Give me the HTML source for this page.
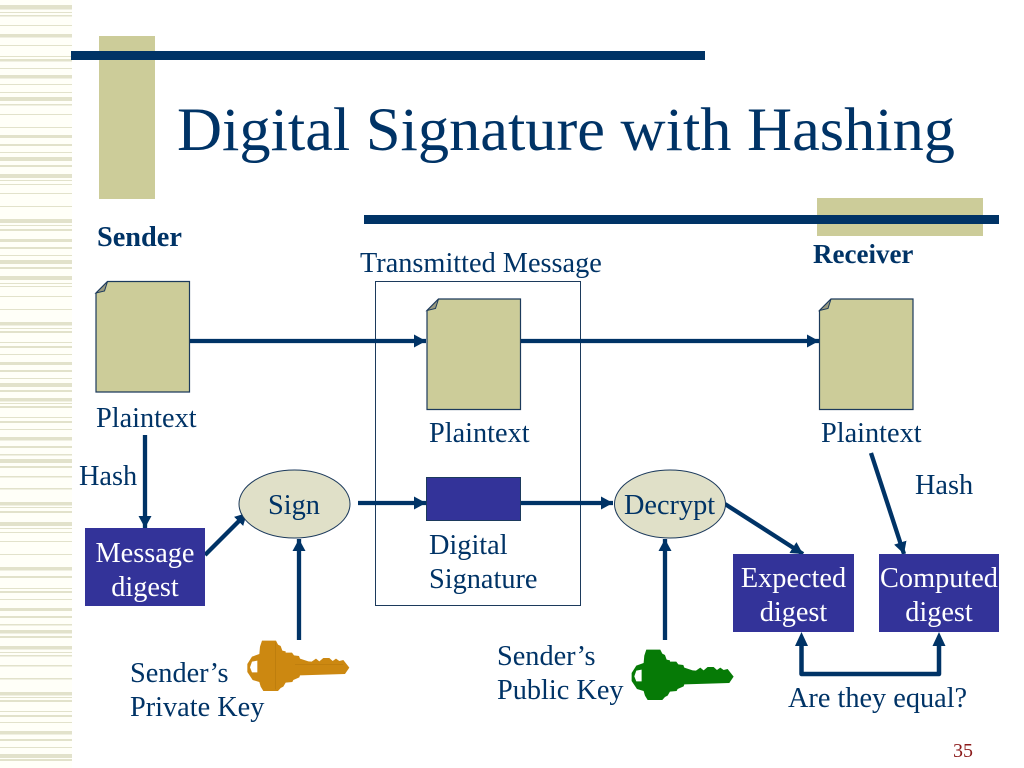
<!DOCTYPE html>
<html><head><meta charset="utf-8"><style>html,body{margin:0;padding:0;background:#fff}svg{display:block}text{font-family:"Liberation Serif",serif;font-size:28.3px;fill:#003366}</style></head><body>
<svg width="1024" height="768" viewBox="0 0 1024 768" xmlns="http://www.w3.org/2000/svg">
<defs>
<g id="doc"><path d="M12 .5H94V111H.5V12Z" fill="#cccc99" stroke="#1c3a5c" stroke-width="1.2"/><path d="M12 .5L.5 12L9 10Z" fill="#9a9a80" stroke="#1c3a5c" stroke-width="1"/></g>
<marker id="a" markerUnits="userSpaceOnUse" markerWidth="14" markerHeight="14" refX="12" refY="7" orient="auto"><path d="M0 .5L12 7L0 13.5Z" fill="#003366"/></marker>
<path id="key" fill-rule="evenodd" d="M22 102L36 80L58 72L60 50L66 32H108L114 44L122 48L127 62L137 64V68H156L162 76L177 78L180 86L205 94L215 95L228 86L238 94L250 84H268L278 93L288 86L298 93L310 90L328 113L315 132L180 136L178 142L160 150L157 156L137 158L130 170L122 174L114 183H70L62 170L58 156L38 150L22 126ZM36 95L52 92V127H36L30 112Z"/>
</defs>
<rect x="0" y="0" width="72" height="768" fill="#fffff8"/>
<path fill="#e2e2cb" d="M0 5h72v4.500H0zM0 12h72v1H0zM0 15h72v1.500H0zM0 25h72v1H0zM0 34h72v3.500H0zM0 45h72v1H0zM0 56h72v1H0zM0 59h72v2.500H0zM0 68h72v1H0zM0 75h72v3.500H0zM0 84h72v1H0zM0 92h72v1H0zM0 97h72v4H0zM0 104h72v1.500H0zM0 114h72v1H0zM0 127h72v1H0zM0 135h72v3H0zM0 144h72v2H0zM0 152h72v1H0zM0 157h72v4H0zM0 165h72v2H0zM0 174h72v4H0zM0 180h72v1H0zM0 184h72v1H0zM0 193h72v1H0zM0 206h72v1H0zM0 219h72v4H0zM0 225h72v1H0zM0 229h72v2H0zM0 239h72v3H0zM0 247h72v2H0zM0 255h72v1H0zM0 260h72v4H0zM0 267h72v2H0zM0 276h72v4H0zM0 283h72v1H0zM0 286h72v1H0zM0 296h72v1H0zM0 309h72v1H0zM0 322h72v3.500H0zM0 328h72v1H0zM0 331h72v2H0zM0 342h72v1H0zM0 346h72v2H0zM0 354h72v1H0zM0 362h72v3H0zM0 370h72v2H0zM0 378h72v1H0zM0 383h72v4H0zM0 390h72v2H0zM0 398h72v3.500H0zM0 403h72v1H0zM0 406h72v2H0zM0 417h72v1H0zM0 421h72v2H0zM0 429h72v1H0zM0 437h72v3.500H0zM0 446h72v2H0zM0 454h72v1.500H0zM0 459h72v4H0zM0 466h72v2H0zM0 476h72v1.500H0zM0 488h72v1.500H0zM0 502h72v3.500H0zM0 507h72v1H0zM0 511h72v2H0zM0 522h72v4H0zM0 528h72v1H0zM0 532h72v1H0zM0 541h72v1H0zM0 554h72v1H0zM0 567h72v3.500H0zM0 576h72v2H0zM0 588h72v1H0zM0 591h72v2H0zM0 599h72v1H0zM0 608h72v3H0zM0 616h72v2H0zM0 624h72v1.500H0zM0 630h72v3.500H0zM0 636h72v2H0zM0 646h72v3.500H0zM0 652h72v1H0zM0 655h72v1.500H0zM0 665h72v1.500H0zM0 678h72v1.500H0zM0 692h72v3.500H0zM0 697h72v1H0zM0 700h72v2H0zM0 711h72v1H0zM0 715h72v2H0zM0 722h72v1H0zM0 731h72v3.500H0zM0 739h72v2H0zM0 747h72v1H0zM0 754h72v4H0zM0 759h72v2H0z"/>
<rect x="99" y="36" width="56" height="163" fill="#cccc99"/>
<rect x="817" y="198" width="166" height="38" fill="#cccc99"/>
<rect x="71" y="51" width="634" height="9" fill="#003366"/>
<rect x="364" y="215" width="635" height="9" fill="#003366"/>
<text x="177" y="150" style="font-size:61px" textLength="778" lengthAdjust="spacingAndGlyphs">Digital Signature with Hashing</text>
<rect x="375.500" y="281.500" width="205" height="324" fill="none" stroke="#1c3a5c" stroke-width="1"/>
<use href="#doc" x="95.500" y="281"/>
<use href="#doc" x="426.500" y="298.500"/>
<use href="#doc" x="819" y="298.500"/>
<g fill="none" stroke="#003366" stroke-width="4.300" marker-end="url(#a)">
<path d="M190 341H426"/>
<path d="M521 341H819"/>
<path d="M145 435V528"/>
<path d="M205 555L247 513"/>
<path d="M358 503H426"/>
<path d="M521 503H613"/>
<path d="M299 640V539"/>
<path d="M665 640V539"/>
<path d="M725 504L803 554"/>
<path d="M871 453L904 554"/>
</g>
<path d="M801.500 640V674H939V640" fill="none" stroke="#003366" stroke-width="4.500" stroke-linejoin="round"/>
<path d="M801.500 632L795 646H808ZM939 632L932.500 646H945.500Z" fill="#003366"/>
<ellipse cx="294.500" cy="504" rx="55.500" ry="34" fill="#e0e0c8" stroke="#1c3a5c" stroke-width="1"/>
<ellipse cx="670" cy="504" rx="55.500" ry="34" fill="#e0e0c8" stroke="#1c3a5c" stroke-width="1"/>
<rect x="426.500" y="477.500" width="94" height="43" fill="#333399" stroke="#1c3a5c" stroke-width="1"/>
<rect x="85" y="528" width="120" height="78" fill="#333399"/>
<rect x="733" y="554" width="121" height="78" fill="#333399"/>
<rect x="879" y="554" width="120" height="78" fill="#333399"/>
<g transform="translate(240 630) scale(.3333)"><use href="#key" fill="#cc8811"/><path d="M107 38V178M165 104H310" stroke="#b87a0c" stroke-width="2" fill="none"/></g>
<g transform="translate(624.300 639) scale(.3333)"><use href="#key" fill="#067a06"/></g>
<text x="97" y="246" style="font-weight:bold">Sender</text>
<text x="813" y="263" style="font-weight:bold;font-size:27px">Receiver</text>
<text x="360" y="272">Transmitted Message</text>
<text x="96" y="427">Plaintext</text>
<text x="429" y="442">Plaintext</text>
<text x="821" y="442">Plaintext</text>
<text x="79" y="485">Hash</text>
<text x="915" y="494">Hash</text>
<text x="268" y="514">Sign</text>
<text x="624" y="514">Decrypt</text>
<text x="429" y="554">Digital</text>
<text x="429" y="588">Signature</text>
<text x="145" y="562" text-anchor="middle" style="fill:#fff">Message</text>
<text x="145" y="596" text-anchor="middle" style="fill:#fff">digest</text>
<text x="793.500" y="587" text-anchor="middle" style="fill:#fff">Expected</text>
<text x="793.500" y="621" text-anchor="middle" style="fill:#fff">digest</text>
<text x="939" y="587" text-anchor="middle" style="fill:#fff">Computed</text>
<text x="939" y="621" text-anchor="middle" style="fill:#fff">digest</text>
<text x="130" y="682">Sender’s</text>
<text x="130" y="716">Private Key</text>
<text x="497" y="665">Sender’s</text>
<text x="497" y="699">Public Key</text>
<text x="788" y="707">Are they equal?</text>
<text x="953" y="757" style="font-size:20px;fill:#8b1a1a">35</text>
</svg>
</body></html>
